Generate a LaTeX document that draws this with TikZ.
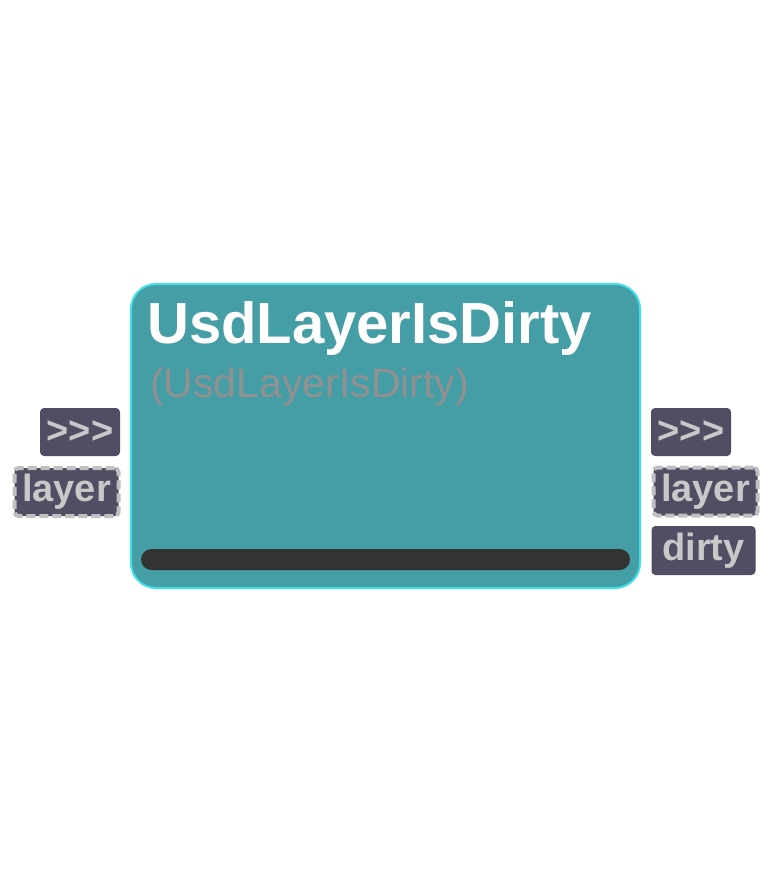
\documentclass[tikz,border=0pt]{standalone}
\usepackage{fontspec}
\setmainfont{Liberation Sans}
\usepackage{tikz}
\usetikzlibrary{positioning}
\usepackage{xcolor}
\definecolor{nodeteal}{RGB}{69,157,166}
\definecolor{nodecyan}{RGB}{64,224,232}
\definecolor{portslate}{RGB}{79,78,99}
\definecolor{portgray}{RGB}{200,200,200}
\definecolor{dashgray}{RGB}{192,192,192}
\definecolor{subgray}{RGB}{145,145,145}
\definecolor{bardark}{RGB}{51,51,51}

\begin{document}
\begin{tikzpicture}[
        x=1pt, y=-1pt,
        mainbox/.style={rectangle, draw=nodecyan, line width=2pt, fill=nodeteal, rounded corners=25pt,
                        minimum width=509pt, minimum height=304pt, inner sep=0pt},
        portbox/.style={rectangle, fill=portslate, rounded corners=4pt, minimum height=48pt, inner sep=0pt,
                        text=portgray, font=\fontsize{38}{40}\selectfont\bfseries},
        dashport/.style={portbox, draw=dashgray, line width=4pt, dash pattern=on 9pt off 4pt},
        title/.style={anchor=base west, inner sep=0pt, text=white, font=\fontsize{58}{62}\selectfont\bfseries},
        subtitle/.style={anchor=base west, inner sep=0pt, text=subgray, font=\fontsize{41}{44}\selectfont},
        bar/.style={rectangle, fill=bardark, rounded corners=10.5pt, minimum width=489pt, minimum height=21pt, inner sep=0pt}
    ]
        \useasboundingbox (0,0) rectangle (775,875);

        % Bloc principal
        \node[mainbox] (usdnode) at (385.5,436) {};
        \node[title] (nodetitle) at (147,343) {UsdLayerIsDirty};
        \node[subtitle] (nodetype) at (150,397) {(UsdLayerIsDirty)};
        \node[bar] (progress) at (385.5,559.5) {};

        % Entrees
        \node[portbox, minimum width=80pt] (inexec) at (80,432) {>{}>{}>};
        \node[dashport, minimum width=104pt, minimum height=48pt] (inlayer) at (66.5,492) {layer};

        % Sorties
        \node[portbox, minimum width=80pt] (outexec) at (691,432) {>{}>{}>};
        \node[dashport, minimum width=104pt, minimum height=48pt] (outlayer) at (705.5,491.5) {layer};
        \node[portbox, minimum width=104pt, minimum height=49pt] (outdirty) at (703.5,550.5) {dirty};
    \end{tikzpicture}
\end{document}
